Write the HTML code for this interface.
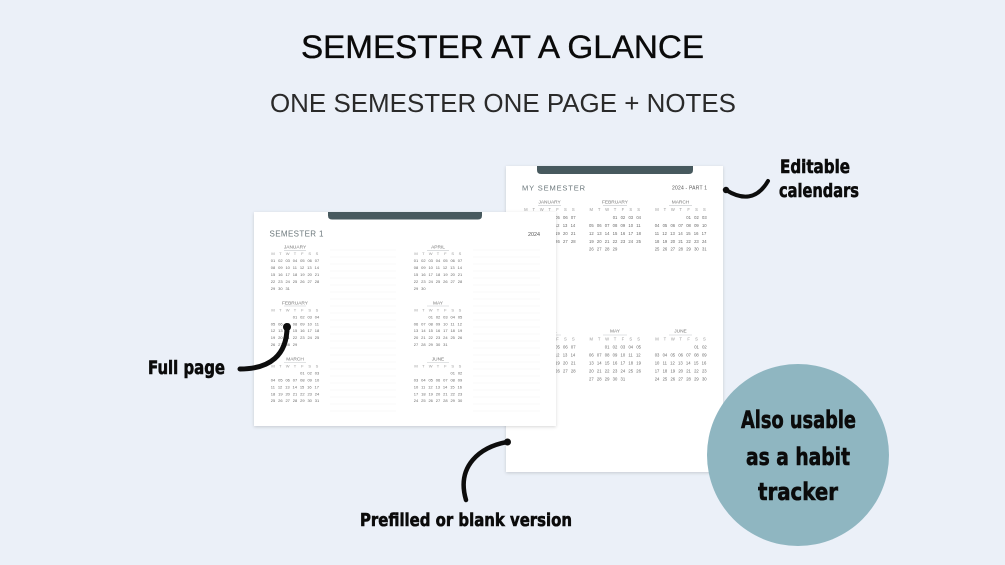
<!DOCTYPE html>
<html lang="en"><head><meta charset="utf-8"><title>Semester at a glance</title>
<style>
html,body{margin:0;padding:0;background:#ebf0f8}
svg{display:block;font-family:"Liberation Sans",sans-serif}
.l text{font-size:4px;fill:#6a6a6a;word-spacing:1.77px}
.r text{font-size:4.2px;fill:#6a6a6a;word-spacing:2.06px}
.l text.wd,.r text.wd{fill:#9a9a9a}
.l text.h,.r text.h{font-size:4.8px;fill:#777;text-anchor:middle;word-spacing:0}
.hand{font-family:"DejaVu Sans",sans-serif;font-weight:700;fill:#0b0b0b;stroke:#0b0b0b;stroke-width:.6}
.n{stroke:#f9f9f9;stroke-width:.7}
.ru{stroke:#c4c8ca;stroke-width:.6}
.curve{fill:none;stroke:#0d0d0d;stroke-linecap:round}
</style></head><body>
<svg width="1005" height="565" viewBox="0 0 1005 565" xmlns="http://www.w3.org/2000/svg">
<defs><filter id="s" x="-5%" y="-5%" width="110%" height="110%"><feDropShadow dx="0" dy="1" stdDeviation="1.6" flood-color="#000" flood-opacity=".16"/></filter></defs>
<rect width="1005" height="565" fill="#ebf0f8"/>
<text x="301" y="58" font-size="32" fill="#0a0a0a" stroke="#0a0a0a" stroke-width=".35" textLength="403" lengthAdjust="spacingAndGlyphs">SEMESTER AT A GLANCE</text>
<text x="270" y="112" font-size="26" fill="#2a2a2a" textLength="466" lengthAdjust="spacingAndGlyphs">ONE SEMESTER ONE PAGE + NOTES</text>

<!-- right sheet -->
<rect x="506" y="166" width="217" height="306" fill="#fff" filter="url(#s)"/>
<path d="M537 166H693V170Q693 174 689 174H541Q537 174 537 170Z" fill="#47595e"/>
<text x="522" y="190.5" font-size="7.5" fill="#6b777b" textLength="63" lengthAdjust="spacing">MY SEMESTER</text>
<text x="672" y="189.5" font-size="5" fill="#555" textLength="35" lengthAdjust="spacing">2024 - PART 1</text>
<g class="r">
<text class="h" x="549.6" y="203.4">JANUARY</text><line class="ru" x1="538" x2="561" y1="205.4" y2="205.4"/>
<text class="wd" text-anchor="middle" x="525.9 533.8 541.7 549.6 557.5 565.4 573.3" y="211">MTWTFSS</text>
<text x="523.6" y="219">01 02 03 04 05 06 07</text>
<text x="523.6" y="227">08 09 10 11 12 13 14</text>
<text x="523.6" y="235">15 16 17 18 19 20 21</text>
<text x="523.6" y="242.8">22 23 24 25 26 27 28</text>
<text x="523.6" y="250.7">29 30 31</text>

<text class="h" x="615" y="203.4">FEBRUARY</text><line class="ru" x1="603" x2="627" y1="205.4" y2="205.4"/>
<text class="wd" text-anchor="middle" x="591.3 599.2 607.1 615 622.9 630.8 638.7" y="211">MTWTFSS</text>
<text x="612.7" y="219">01 02 03 04</text>
<text x="589" y="227">05 06 07 08 09 10 11</text>
<text x="589" y="235">12 13 14 15 16 17 18</text>
<text x="589" y="242.8">19 20 21 22 23 24 25</text>
<text x="589" y="250.7">26 27 28 29</text>

<text class="h" x="680.5" y="203.4">MARCH</text><line class="ru" x1="669" x2="692" y1="205.4" y2="205.4"/>
<text class="wd" text-anchor="middle" x="657 664.9 672.8 680.7 688.6 696.5 704.4" y="211">MTWTFSS</text>
<text x="686.3" y="219">01 02 03</text>
<text x="654.7" y="227">04 05 06 07 08 09 10</text>
<text x="654.7" y="235">11 12 13 14 15 16 17</text>
<text x="654.7" y="242.8">18 19 20 21 22 23 24</text>
<text x="654.7" y="250.7">25 26 27 28 29 30 31</text>

<text class="h" x="549.6" y="332.4">APRIL</text><line class="ru" x1="538" x2="561" y1="335" y2="335"/>
<text class="wd" text-anchor="middle" x="525.9 533.8 541.7 549.6 557.5 565.4 573.3" y="340.4">MTWTFSS</text>
<text x="523.6" y="348.5">01 02 03 04 05 06 07</text>
<text x="523.6" y="356.4">08 09 10 11 12 13 14</text>
<text x="523.6" y="364.4">15 16 17 18 19 20 21</text>
<text x="523.6" y="372.4">22 23 24 25 26 27 28</text>
<text x="523.6" y="380.4">29 30</text>

<text class="h" x="615" y="332.4">MAY</text><line class="ru" x1="603" x2="627" y1="335" y2="335"/>
<text class="wd" text-anchor="middle" x="591.3 599.2 607.1 615 622.9 630.8 638.7" y="340.4">MTWTFSS</text>
<text x="604.8" y="348.5">01 02 03 04 05</text>
<text x="589" y="356.4">06 07 08 09 10 11 12</text>
<text x="589" y="364.4">13 14 15 16 17 18 19</text>
<text x="589" y="372.4">20 21 22 23 24 25 26</text>
<text x="589" y="380.4">27 28 29 30 31</text>

<text class="h" x="680.5" y="332.4">JUNE</text><line class="ru" x1="669" x2="692" y1="335" y2="335"/>
<text class="wd" text-anchor="middle" x="657 664.9 672.8 680.7 688.6 696.5 704.4" y="340.4">MTWTFSS</text>
<text x="694.2" y="348.5">01 02</text>
<text x="654.7" y="356.4">03 04 05 06 07 08 09</text>
<text x="654.7" y="364.4">10 11 12 13 14 15 16</text>
<text x="654.7" y="372.4">17 18 19 20 21 22 23</text>
<text x="654.7" y="380.4">24 25 26 27 28 29 30</text>
</g>

<!-- left sheet -->
<rect x="254" y="212" width="302" height="214" fill="#fff" filter="url(#s)"/>
<path d="M328 212H482V215.5Q482 219.5 478 219.5H332Q328 219.5 328 215.5Z" fill="#47595e"/>
<text x="269.5" y="236.5" font-size="8" fill="#6b777b" textLength="54" lengthAdjust="spacing">SEMESTER 1</text>
<text x="528" y="236" font-size="5.2" fill="#555" textLength="12" lengthAdjust="spacingAndGlyphs">2024</text>
<path class="n" d="M330 250H396M330 257H396M330 264H396M330 271H396M330 278H396M330 285H396M330 292H396M330 299H396M330 306H396M330 313H396M330 320H396M330 327H396M330 334H396M330 341H396M330 348H396M330 355H396M330 362H396M330 369H396M330 376H396M330 383H396M330 390H396M330 397H396M330 404H396M330 411H396M473 250H540M473 257H540M473 264H540M473 271H540M473 278H540M473 285H540M473 292H540M473 299H540M473 306H540M473 313H540M473 320H540M473 327H540M473 334H540M473 341H540M473 348H540M473 355H540M473 362H540M473 369H540M473 376H540M473 383H540M473 390H540M473 397H540M473 404H540M473 411H540"/>
<g class="l">
<text class="h" x="295" y="248.7">JANUARY</text><line class="ru" x1="284" x2="306" y1="250.4" y2="250.4"/>
<text class="wd" text-anchor="middle" x="273 280.3 287.7 295 302.3 309.7 317" y="255">MTWTFSS</text>
<text x="270.8" y="262.2">01 02 03 04 05 06 07</text>
<text x="270.8" y="269.2">08 09 10 11 12 13 14</text>
<text x="270.8" y="276.2">15 16 17 18 19 20 21</text>
<text x="270.8" y="282.8">22 23 24 25 26 27 28</text>
<text x="270.8" y="289.8">29 30 31</text>

<text class="h" x="295" y="304.7">FEBRUARY</text><line class="ru" x1="284" x2="306" y1="306" y2="306"/>
<text class="wd" text-anchor="middle" x="273 280.3 287.7 295 302.3 309.7 317" y="311.4">MTWTFSS</text>
<text x="292.8" y="318.4">01 02 03 04</text>
<text x="270.8" y="325.4">05 06 07 08 09 10 11</text>
<text x="270.8" y="332.2">12 13 14 15 16 17 18</text>
<text x="270.8" y="338.8">19 20 21 22 23 24 25</text>
<text x="270.8" y="345.8">26 27 28 29</text>

<text class="h" x="295" y="360.7">MARCH</text><line class="ru" x1="284" x2="306" y1="362.5" y2="362.5"/>
<text class="wd" text-anchor="middle" x="273 280.3 287.7 295 302.3 309.7 317" y="367.4">MTWTFSS</text>
<text x="300.1" y="374.4">01 02 03</text>
<text x="270.8" y="381.4">04 05 06 07 08 09 10</text>
<text x="270.8" y="388.4">11 12 13 14 15 16 17</text>
<text x="270.8" y="395.4">18 19 20 21 22 23 24</text>
<text x="270.8" y="402">25 26 27 28 29 30 31</text>

<text class="h" x="438" y="248.7">APRIL</text><line class="ru" x1="427" x2="449" y1="250.4" y2="250.4"/>
<text class="wd" text-anchor="middle" x="416 423.3 430.7 438 445.3 452.7 460" y="255">MTWTFSS</text>
<text x="413.8" y="262.2">01 02 03 04 05 06 07</text>
<text x="413.8" y="269.2">08 09 10 11 12 13 14</text>
<text x="413.8" y="276.2">15 16 17 18 19 20 21</text>
<text x="413.8" y="282.8">22 23 24 25 26 27 28</text>
<text x="413.8" y="289.8">29 30</text>

<text class="h" x="438" y="304.7">MAY</text><line class="ru" x1="427" x2="449" y1="306" y2="306"/>
<text class="wd" text-anchor="middle" x="416 423.3 430.7 438 445.3 452.7 460" y="311.4">MTWTFSS</text>
<text x="428.5" y="318.4">01 02 03 04 05</text>
<text x="413.8" y="325.4">06 07 08 09 10 11 12</text>
<text x="413.8" y="332.2">13 14 15 16 17 18 19</text>
<text x="413.8" y="338.8">20 21 22 23 24 25 26</text>
<text x="413.8" y="345.8">27 28 29 30 31</text>

<text class="h" x="438" y="360.7">JUNE</text><line class="ru" x1="427" x2="449" y1="362.5" y2="362.5"/>
<text class="wd" text-anchor="middle" x="416 423.3 430.7 438 445.3 452.7 460" y="367.4">MTWTFSS</text>
<text x="450.5" y="374.4">01 02</text>
<text x="413.8" y="381.4">03 04 05 06 07 08 09</text>
<text x="413.8" y="388.4">10 11 12 13 14 15 16</text>
<text x="413.8" y="395.4">17 18 19 20 21 22 23</text>
<text x="413.8" y="402">24 25 26 27 28 29 30</text>
</g>

<!-- circle -->
<circle cx="798" cy="455" r="91" fill="#8fb6c1"/>
<text class="hand" x="741" y="428" font-size="24" textLength="115" lengthAdjust="spacingAndGlyphs">Also usable</text>
<text class="hand" x="746" y="465" font-size="24" textLength="104" lengthAdjust="spacingAndGlyphs">as a habit</text>
<text class="hand" x="758" y="500" font-size="24" textLength="80" lengthAdjust="spacingAndGlyphs">tracker</text>

<!-- labels -->
<text class="hand" x="780" y="173" font-size="19" textLength="70" lengthAdjust="spacingAndGlyphs">Editable</text>
<text class="hand" x="779" y="197" font-size="19" textLength="80" lengthAdjust="spacingAndGlyphs">calendars</text>
<text class="hand" x="148" y="374" font-size="19" textLength="77" lengthAdjust="spacingAndGlyphs">Full page</text>
<text class="hand" x="360" y="526" font-size="18" textLength="212" lengthAdjust="spacingAndGlyphs">Prefilled or blank version</text>

<!-- curves -->
<path class="curve" stroke-width="4" d="M726 190C742 200 757 200 768 181"/>
<circle cx="726" cy="190" r="3.2" fill="#0d0d0d"/>
<path class="curve" stroke-width="5" d="M240 369C270 369 287 355 287 327"/>
<circle cx="287" cy="327" r="4" fill="#0d0d0d"/>
<path class="curve" stroke-width="4.5" d="M507 442C480 447 456 466 466 500"/>
<circle cx="507.5" cy="442" r="3.5" fill="#0d0d0d"/>
</svg>
</body></html>
